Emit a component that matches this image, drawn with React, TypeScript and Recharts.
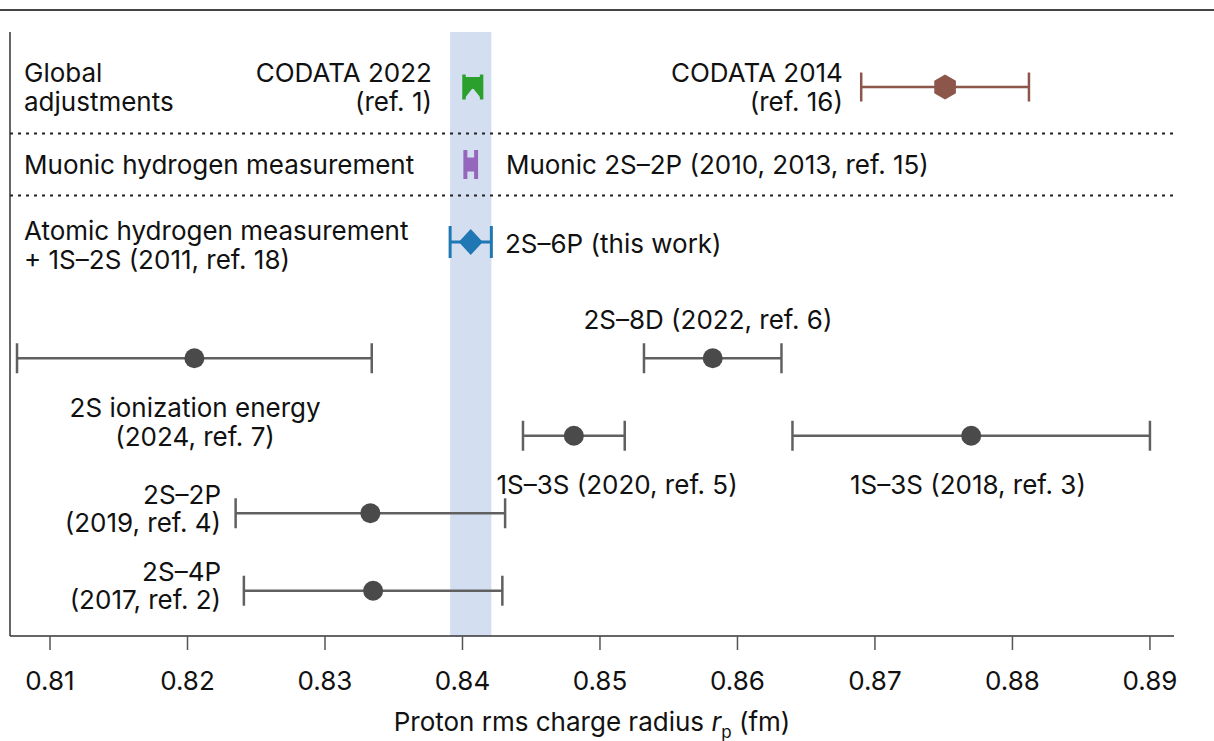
import React from "react";
import {
  ScatterChart,
  Scatter,
  XAxis,
  YAxis,
  ErrorBar,
  ReferenceArea,
  ReferenceLine,
} from "recharts";

// ---------- data ----------
const xTicks = [0.81, 0.82, 0.83, 0.84, 0.85, 0.86, 0.87, 0.88, 0.89];
const xDomain = [0.80709, 0.89175];
const rowDomain = [0.29, 8.084];

const codata2022 = [{ r: 0.84075, row: 1, err: 0.00064 }];
const codata2014 = [{ r: 0.8751, row: 1, err: 0.0061 }];
const muonic = [{ r: 0.8406, row: 2, err: 0.00039 }];
const thisWork = [{ r: 0.8406, row: 3, err: 0.0015 }];
const hydrogenNames = [
  "2S ionization energy",
  "2S–8D",
  "1S–3S (2020)",
  "1S–3S (2018)",
  "2S–2P",
  "2S–4P",
];
const hydrogenValues = [0.8205, 0.8582, 0.8481, 0.877, 0.8333, 0.8335];
const hydrogenErrors = [0.0129, 0.005, 0.0037, 0.013, 0.0098, 0.0094];
const hydrogenRows = [4.5, 4.5, 5.5, 5.5, 6.5, 7.5];

const separatorRows = [1.6, 2.4];
const band = [0.8391, 0.8421];

const labelTexts = [
  ["Global", "adjustments"],
  ["CODATA 2022", "(ref. 1)"],
  ["CODATA 2014", "(ref. 16)"],
  ["Muonic hydrogen measurement"],
  ["Muonic 2S–2P (2010, 2013, ref. 15)"],
  ["Atomic hydrogen measurement", "+ 1S–2S (2011, ref. 18)"],
  ["2S–6P (this work)"],
  ["2S–8D (2022, ref. 6)"],
  ["2S ionization energy", "(2024, ref. 7)"],
  ["1S–3S (2020, ref. 5)"],
  ["1S–3S (2018, ref. 3)"],
  ["2S–2P", "(2019, ref. 4)"],
  ["2S–4P", "(2017, ref. 2)"],
];
const labelX = [0.80811, 0.83778, 0.86767, 0.80811, 0.84316, 0.80811, 0.84309, 0.85785, 0.82055, 0.85124, 0.87676, 0.82244, 0.82244];
const labelRows = [1, 1, 1, 2, 2, 3.04, 3.02, 4.0, 5.32, 6.13, 6.13, 6.44, 7.43];
const labelAnchors = ["start", "end", "end", "start", "start", "start", "start", "middle", "middle", "middle", "middle", "end", "end"];

// ---------- derived tables ----------
const hydrogenData = hydrogenNames.map((name, i) => ({
  name,
  r: hydrogenValues[i],
  row: hydrogenRows[i],
  err: hydrogenErrors[i],
}));
const labelData = labelTexts.map((lines, i) => ({
  lines,
  r: labelX[i],
  row: labelRows[i],
  anchor: labelAnchors[i],
}));

// ---------- styles ----------
const FONT = "Inter, 'Liberation Sans', Arial, sans-serif";
const FS = 26;
const GREY = "#4a4a4a";
const GREY_LINE = "#606060";
const GREEN = "#2ca02c";
const PURPLE = "#9467bd";
const BLUE = "#1f77b4";
const BROWN = "#8c564b";

const CircleShape = (p: any) => <circle cx={p.cx} cy={p.cy} r={10} fill={GREY} />;

const HexShape = (p: any) => {
  const R = 12.5;
  const pts = [0, 1, 2, 3, 4, 5]
    .map((k) => {
      const a = (Math.PI / 3) * k - Math.PI / 2;
      return `${p.cx + R * Math.cos(a)},${p.cy + R * Math.sin(a)}`;
    })
    .join(" ");
  return <polygon points={pts} fill={BROWN} />;
};

const GreenShape = (p: any) => {
  const { cx, cy } = p;
  const d = `M${cx - 8},${cy - 10} L${cx + 8},${cy - 10} L${cx + 8},${cy + 11} L${cx},${cy + 1} L${cx - 8},${cy + 11} Z`;
  return <path d={d} fill={GREEN} />;
};

const PurpleShape = (p: any) => (
  <rect x={p.cx - 6} y={p.cy - 7} width={12} height={14} fill={PURPLE} />
);

const DiamondShape = (p: any) => {
  const { cx, cy } = p;
  const d = `M${cx},${cy - 13} L${cx + 12},${cy} L${cx},${cy + 13} L${cx - 12},${cy} Z`;
  return <path d={d} fill={BLUE} />;
};

const LabelShape = (p: any) => {
  const { cx, cy, payload } = p;
  const lines: string[] = payload.lines;
  const n = lines.length;
  const lh = 28.5;
  return (
    <text textAnchor={payload.anchor} fontSize={FS} fill="#111" fontFamily={FONT}>
      {lines.map((l, i) => (
        <tspan key={i} x={cx} y={cy + (i - (n - 1) / 2) * lh + 9.5}>
          {l}
        </tspan>
      ))}
    </text>
  );
};

const AxisTitle = (props: any) => {
  const vb = props.viewBox || { x: 10, y: 636, width: 1164, height: 60 };
  const x = vb.x + vb.width / 2;
  const y = vb.y + 95;
  return (
    <text x={x} y={y} textAnchor="middle" fontSize={FS} fill="#111" fontFamily={FONT}>
      Proton rms charge radius{" "}
      <tspan fontStyle="italic">r</tspan>
      <tspan fontSize={17} dy={7}>p</tspan>
      <tspan dy={-7}> (fm)</tspan>
    </text>
  );
};

export default function App() {
  return (
    <div style={{ position: "absolute", left: 0, top: 0, width: 1214, height: 741, background: "#fff" }}>
      <div style={{ position: "absolute", left: 0, top: 9, width: 1214, height: 2, background: "#444" }} />
      <ScatterChart
        width={1214}
        height={741}
        margin={{ top: 32, right: 40, bottom: 45, left: 10 }}
        style={{ fontFamily: FONT }}
      >
        <XAxis
          type="number"
          dataKey="r"
          domain={xDomain}
          allowDataOverflow
          ticks={xTicks}
          tickFormatter={(v: number) => v.toFixed(2)}
          height={60}
          tickSize={14}
          tickMargin={22}
          axisLine={{ stroke: "#333", strokeWidth: 1.5 }}
          tickLine={{ stroke: "#555", strokeWidth: 1.5 }}
          tick={{ fontSize: FS, fill: "#111", fontFamily: FONT }}
          label={<AxisTitle />}
        />
        <YAxis type="number" dataKey="row" domain={rowDomain} reversed hide allowDataOverflow />
        <ReferenceArea x1={band[0]} x2={band[1]} fill="#d3dff1" fillOpacity={1} stroke="none" ifOverflow="hidden" />
        <ReferenceLine x={xDomain[0]} stroke="#333" strokeWidth={1.5} />
        {separatorRows.map((y) => (
          <ReferenceLine key={y} y={y} stroke="#222" strokeWidth={2} strokeDasharray="3 5" />
        ))}
        <Scatter data={hydrogenData} shape={CircleShape} isAnimationActive={false}>
          <ErrorBar dataKey="err" direction="x" width={15} stroke={GREY_LINE} strokeWidth={2.5} />
        </Scatter>
        <Scatter data={codata2014} shape={HexShape} isAnimationActive={false}>
          <ErrorBar dataKey="err" direction="x" width={14.5} stroke={BROWN} strokeWidth={2.5} />
        </Scatter>
        <Scatter data={codata2022} shape={GreenShape} isAnimationActive={false}>
          <ErrorBar dataKey="err" direction="x" width={12.5} stroke={GREEN} strokeWidth={3.5} />
        </Scatter>
        <Scatter data={muonic} shape={PurpleShape} isAnimationActive={false}>
          <ErrorBar dataKey="err" direction="x" width={14.5} stroke={PURPLE} strokeWidth={4} />
        </Scatter>
        <Scatter data={thisWork} shape={DiamondShape} isAnimationActive={false}>
          <ErrorBar dataKey="err" direction="x" width={16} stroke={BLUE} strokeWidth={3} />
        </Scatter>
        <Scatter data={labelData} shape={LabelShape} isAnimationActive={false} />
      </ScatterChart>
    </div>
  );
}
